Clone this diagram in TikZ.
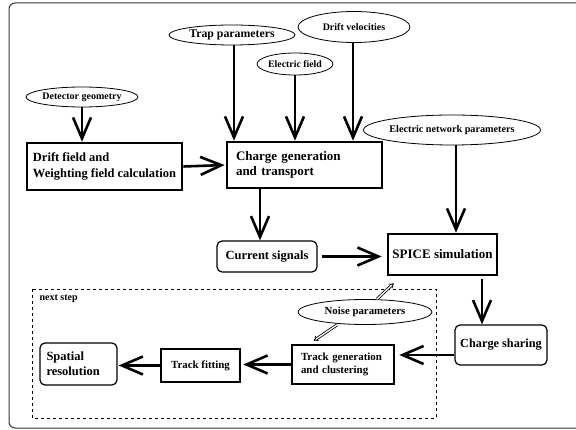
\documentclass[tikz,border=0pt]{standalone}
\usepackage{fontspec}
\setmainfont{Liberation Serif}
\usetikzlibrary{shapes.geometric,arrows.meta}

\begin{document}
\begin{tikzpicture}[x=1pt,y=-1pt,font=\bfseries,
	box/.style={draw,line width=2.6pt,inner sep=0pt,align=left},
	rbox/.style={draw,line width=1.2pt,rounded corners=5pt,inner sep=0pt,align=center},
	oval/.style={draw,ellipse,line width=0.8pt,inner sep=0pt},
	arr/.style={line width=2.6pt,-{Straight Barb[length=21pt,width=18pt,line width=2.6pt]}},
	thinarr/.style={double,line width=0.8pt,double distance=1.3pt,-{Implies[length=5pt]}}]
	\useasboundingbox (0,0) rectangle (576,430);
	\draw[black!80,line width=1pt,rounded corners=6pt] (9,3) rectangle (620,428);
	\draw[dashed,line width=0.7pt] (32,289) rectangle (436,418);
	\node[anchor=west,font=\bfseries\fontsize{10}{11}\selectfont] (nextstep) at (36,299) {next step};

	\node[oval,minimum width=92pt,minimum height=20pt,font=\bfseries\fontsize{10}{12}\selectfont] (geom) at (82,97) {Detector geometry};
	\node[oval,minimum width=126pt,minimum height=20pt,font=\bfseries\fontsize{11.8}{14}\selectfont] (trap) at (232,35) {Trap parameters};
	\node[oval,minimum width=70pt,minimum height=22pt,font=\bfseries\fontsize{9.8}{12}\selectfont] (efield) at (295,64) {Electric field};
	\node[oval,minimum width=112pt,minimum height=31pt,font=\bfseries\fontsize{10}{12}\selectfont] (vdrift) at (354,27) {Drift velocities};
	\node[oval,minimum width=166pt,minimum height=30pt,font=\bfseries\fontsize{10.2}{12}\selectfont] (network) at (452,130) {Electric network parameters};
	\node[oval,minimum width=134pt,minimum height=25pt,font=\bfseries\fontsize{10.8}{12}\selectfont] (noise) at (365,312) {Noise parameters};

	\node[box,minimum width=155pt,minimum height=47pt,font=\bfseries\fontsize{12.5}{16}\selectfont] (field) at (104.5,166.5) {Drift field and\\Weighting field calculation};
	\node[box,text width=137pt,inner xsep=9pt,minimum height=46pt,font=\bfseries\fontsize{13}{15}\selectfont] (transport) at (304.5,165) {Charge generation\\and transport};
	\node[rbox,minimum width=100pt,minimum height=31pt,font=\bfseries\fontsize{12.5}{15}\selectfont] (signals) at (267,256.5) {Current signals};
	\node[box,align=center,minimum width=109pt,minimum height=41pt,font=\bfseries\fontsize{13}{15}\selectfont] (spice) at (442.5,254.5) {SPICE simulation};
	\node[rbox,minimum width=92pt,minimum height=40pt,font=\bfseries\fontsize{12.3}{15}\selectfont] (sharing) at (501,345) {Charge sharing};
	\node[box,text width=84pt,inner xsep=9pt,minimum height=39pt,font=\bfseries\fontsize{10.9}{12.5}\selectfont] (tracks) at (343,364.5) {Track generation\\and clustering};
	\node[box,align=center,minimum width=79pt,minimum height=33pt,font=\bfseries\fontsize{10.9}{13}\selectfont] (fitting) at (200.5,365.5) {Track fitting};
	\node[rbox,align=left,text width=64pt,inner xsep=6.5pt,minimum height=42pt,font=\bfseries\fontsize{12.5}{15}\selectfont] (resolution) at (78.5,364) {Spatial\\resolution};

	\draw[arr] (geom.south) -- (geom.south |- field.north);
	\draw[arr] ([xshift=2pt]trap.south) -- ([xshift=2pt]trap.south |- transport.north);
	\draw[arr] (efield.south) -- (efield.south |- transport.north);
	\draw[arr] ([xshift=-1pt]vdrift.south) -- ([xshift=-1pt]vdrift.south |- transport.north);
	\draw[arr,shorten >=1pt] (field.east) -- (transport.west);
	\draw[arr] ([xshift=4pt]network.south) -- ([xshift=4pt]network.south |- spice.north);
	\draw[arr] ([xshift=-7pt]signals.north |- transport.south) -- ([xshift=-7pt]signals.north);
	\draw[arr,shorten <=4pt,shorten >=5pt] (signals.east) -- (signals.east -| spice.west);
	\draw[arr,shorten <=3pt] ([xshift=-19pt]sharing.north |- spice.south) -- ([xshift=-19pt]sharing.north);
	\draw[arr,shorten >=4pt] ([yshift=-10pt]sharing.west) -- ([yshift=-10pt]sharing.west -| tracks.east);
	\draw[arr,shorten >=2pt] (tracks.west) -- (tracks.west -| fitting.east);
	\draw[arr,shorten >=1pt] (fitting.west) -- (fitting.west -| resolution.east);
	\draw[thinarr] ([xshift=12pt]noise.north) -- ([xshift=7pt,yshift=-7pt]spice.south west);
	\draw[thinarr] ([xshift=-28pt]noise.south) -- ([xshift=23pt,yshift=3pt]tracks.north west);
\end{tikzpicture}
\end{document}
